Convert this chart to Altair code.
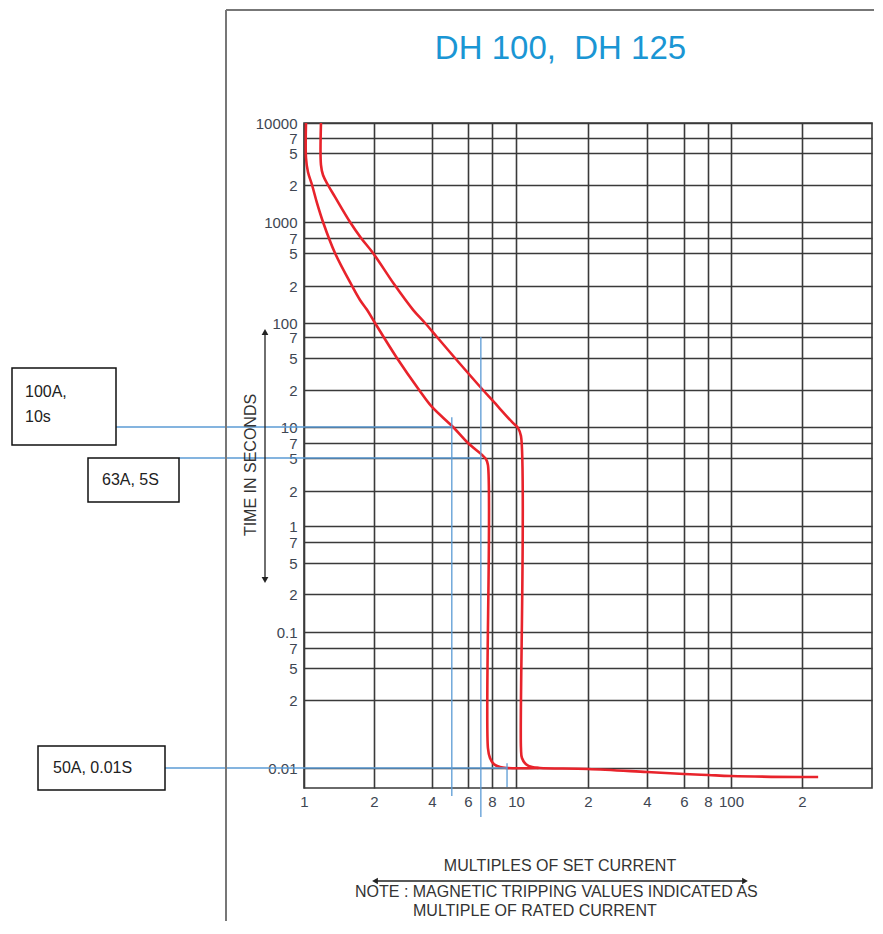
import altair as alt
import pandas as pd

# ---------------- data ----------------
title_text = "DH 100,\u00a0 DH 125"

# curve with the lower trip characteristic (left curve)
curve1_x = [1.02, 1.02, 1.04, 1.083, 1.137, 1.207, 1.359, 1.61, 1.741, 1.866, 2.024, 2.63,
            3.43, 4.0, 5.07, 6.0, 7.10, 7.44, 7.62, 7.62, 7.81, 8.15, 8.62, 9.22, 12.4]
curve1_y = [10000, 4330, 2900, 2000, 1430, 1000, 500, 200, 154, 128, 100, 50,
            20, 14.55, 10, 7, 5.35, 4.86, 4.12, 0.01226, 0.01107, 0.0104, 0.0101, 0.0100, 0.0100]

# curve with the upper trip characteristic (right curve) and common tail
curve2_x = [1.183, 1.183, 1.207, 1.268, 1.359, 1.577, 1.759, 1.98, 2.54, 3.19, 3.68, 4.23,
            5.18, 7.18, 8.07, 9.63, 10.19, 10.49, 10.49, 10.59, 11.01, 11.67, 12.6,
            20, 40, 60, 80, 100, 200, 234]
curve2_y = [10000, 3550, 2660, 2000, 1600, 1000, 700, 500, 211, 128, 100, 70,
            50, 20, 16.3, 11.0, 9.78, 8.18, 0.01226, 0.01107, 0.0104, 0.0101, 0.0100,
            0.00989, 0.00956, 0.00935, 0.00925, 0.00915, 0.00904, 0.00904]

# x ticks (multiples of set current)
x_tick_values = [1, 2, 4, 6, 8, 10, 20, 40, 60, 80, 100, 200]
x_tick_labels = ["1", "2", "4", "6", "8", "10", "2", "4", "6", "8", "100", "2"]

# y ticks (time in seconds)
y_tick_values = [10000, 7000, 5000, 2000, 1000, 700, 500, 200, 100, 70, 50, 20, 10, 7, 5, 2,
                 1, 0.7, 0.5, 0.2, 0.1, 0.07, 0.05, 0.02, 0.01]
y_tick_labels = ["10000", "7", "5", "2", "1000", "7", "5", "2", "100", "7", "5", "2", "10",
                 "7", "5", "2", "1", "7", "5", "2", "0.1", "7", "5", "2", "0.01"]

# annotation markers (current multiple, time)
marker_current = [5, 7, 9.2]
marker_time = [10, 5, 0.01]
marker_top = [12, 70, 0.0105]
box_text = [["100A,", "10s"], ["63A, 5S"], ["50A, 0.01S"]]

x_title = "MULTIPLES OF SET CURRENT"
y_title = "TIME IN SECONDS"
note_lines = ["NOTE : MAGNETIC TRIPPING VALUES INDICATED AS", "MULTIPLE OF RATED CURRENT"]

# ---------------- scales (the printed grid is not exactly logarithmic) ----------------
W, H = 568, 665
x_scale = alt.Scale(type="log", nice=False,
                    domain=[1, 2, 4, 6, 8, 10, 20, 40, 60, 80, 100, 200, 395],
                    range=[0, 70, 128, 164, 188, 212, 284, 343, 380, 404, 427, 498, 568])
y_scale = alt.Scale(type="log", nice=False,
                    domain=[0.008, 0.01, 0.02, 0.05, 0.07, 0.1, 0.2, 0.5, 0.7, 1, 2, 5, 7, 10,
                            20, 50, 70, 100, 200, 500, 700, 1000, 2000, 5000, 7000, 10000],
                    range=[665, 645, 577, 545, 525, 509, 471, 440, 419, 403, 368, 335, 320, 304,
                           267, 235, 214, 200, 163, 130, 115, 99, 62, 30, 15, 0])

FONT = "Liberation Sans"
GRID = "#3a3a3a"
LABEL = "#3e4652"
RED = "#e8232b"
BLUE = "#5b9bd5"


def label_expr(values, labels):
    expr = "''"
    for v, l in reversed(list(zip(values, labels))):
        expr = f"(abs(datum.value - {v}) < {v * 1e-6}) ? '{l}' : ({expr})"
    return expr


rows = []
for name, xs, ys in [("c1", curve1_x, curve1_y), ("c2", curve2_x, curve2_y)]:
    for i, (a, b) in enumerate(zip(xs, ys)):
        rows.append({"series": name, "i": i, "x": a, "y": b})
curves = pd.DataFrame(rows)
one = pd.DataFrame([{"k": 0}])

curve_layer = alt.Chart(curves).mark_line(color=RED, strokeWidth=2.6, strokeJoin="round",
                                          interpolate="catmull-rom").encode(
    x=alt.X("x:Q", scale=x_scale,
            axis=alt.Axis(values=x_tick_values, labelExpr=label_expr(x_tick_values, x_tick_labels),
                          grid=True, gridColor=GRID, gridWidth=1.6, gridOpacity=1,
                          ticks=False, domain=False, title=None, labelFont=FONT,
                          labelFontSize=15, labelColor=LABEL, labelPadding=6,
                          labelFlush=False, labelOverlap=False, labelBound=False)),
    y=alt.Y("y:Q", scale=y_scale,
            axis=alt.Axis(values=y_tick_values, labelExpr=label_expr(y_tick_values, y_tick_labels),
                          grid=True, gridColor=GRID, gridWidth=1.6, gridOpacity=1,
                          ticks=False, domain=False, title=None, labelFont=FONT,
                          labelFontSize=15, labelColor=LABEL, labelPadding=7,
                          labelFlush=False, labelOverlap=False, labelBound=False,
                          labelBaseline="middle")),
    detail="series:N",
    order="i:Q",
)

layers = [curve_layer]

# blue annotation lines
box_right = [-188, -125, -139]
for cur, t, xr in zip(marker_current, marker_time, box_right):
    layers.append(alt.Chart(one).mark_rule(color=BLUE, strokeWidth=1.3).encode(
        x=alt.datum(cur), x2=alt.value(xr), y=alt.datum(t)))
vert_bottom = [673, 694, 664]
for cur, top, yb in zip(marker_current, marker_top, vert_bottom):
    layers.append(alt.Chart(one).mark_rule(color=BLUE, strokeWidth=1.3).encode(
        x=alt.datum(cur), y=alt.datum(top), y2=alt.value(yb)))

# annotation boxes
boxes = [(-292, -188, 245, 322), (-216, -125, 335, 379), (-266, -139, 623, 667)]
for (x1, x2, y1, y2) in boxes:
    layers.append(alt.Chart(one).mark_rect(fill="white", stroke="#111", strokeWidth=1.5).encode(
        x=alt.value(x1), x2=alt.value(x2), y=alt.value(y1), y2=alt.value(y2)))
text_pos = [[(-279, 274), (-279, 299)], [(-202, 362)], [(-251, 650)]]
for lines, poss in zip(box_text, text_pos):
    for line, (tx, ty) in zip(lines, poss):
        layers.append(alt.Chart(one).mark_text(align="left", baseline="alphabetic", font=FONT,
                                               fontSize=16, color="#222").encode(
            x=alt.value(tx), y=alt.value(ty), text=alt.value(line)))

# title
layers.append(alt.Chart(one).mark_text(align="center", baseline="alphabetic", font=FONT,
                                       fontSize=33, color="#1a96d4").encode(
    x=alt.value(256.5), y=alt.value(-64), text=alt.value(title_text)))

# y title with double arrow
layers.append(alt.Chart(one).mark_text(align="center", baseline="middle", font=FONT,
                                       fontSize=16, angle=270, color="#333").encode(
    x=alt.value(-53), y=alt.value(342), text=alt.value(y_title)))
layers.append(alt.Chart(one).mark_rule(color="#222", strokeWidth=1.3).encode(
    x=alt.value(-39), y=alt.value(210), y2=alt.value(457)))
layers.append(alt.Chart(one).mark_point(shape="triangle-up", filled=True, size=45, color="#222",
                                        opacity=1).encode(x=alt.value(-39), y=alt.value(209)))
layers.append(alt.Chart(one).mark_point(shape="triangle-down", filled=True, size=45, color="#222",
                                        opacity=1).encode(x=alt.value(-39), y=alt.value(457)))

# x title with double arrow
layers.append(alt.Chart(one).mark_text(align="center", baseline="alphabetic", font=FONT,
                                       fontSize=16, color="#333").encode(
    x=alt.value(256), y=alt.value(748), text=alt.value(x_title)))
layers.append(alt.Chart(one).mark_rule(color="#222", strokeWidth=1.3).encode(
    x=alt.value(72), x2=alt.value(440), y=alt.value(758)))
layers.append(alt.Chart(one).mark_point(shape="triangle-left", filled=True, size=45, color="#222",
                                        opacity=1).encode(x=alt.value(71), y=alt.value(758)))
layers.append(alt.Chart(one).mark_point(shape="triangle-right", filled=True, size=45, color="#222",
                                        opacity=1).encode(x=alt.value(441), y=alt.value(758)))

# note
note_pos = [(51, 774), (109, 793)]
for line, (tx, ty) in zip(note_lines, note_pos):
    layers.append(alt.Chart(one).mark_text(align="left", baseline="alphabetic", font=FONT,
                                           fontSize=16, color="#333").encode(
        x=alt.value(tx), y=alt.value(ty), text=alt.value(line)))

# page frame
layers.append(alt.Chart(one).mark_rule(color="#777", strokeWidth=2).encode(
    x=alt.value(-78), y=alt.value(-113), y2=alt.value(820)))
layers.append(alt.Chart(one).mark_rule(color="#777", strokeWidth=2).encode(
    x=alt.value(-78), x2=alt.value(600), y=alt.value(-113)))

chart = alt.layer(*layers).properties(
    width=W, height=H,
    padding={"left": 296, "top": 115, "right": 2, "bottom": 133},
    autosize=alt.AutoSizeParams(type="none"),
    background="white",
).configure_view(stroke=GRID, strokeWidth=1.6)

chart.save("out.html", embed_options={"renderer": "svg", "actions": False})
